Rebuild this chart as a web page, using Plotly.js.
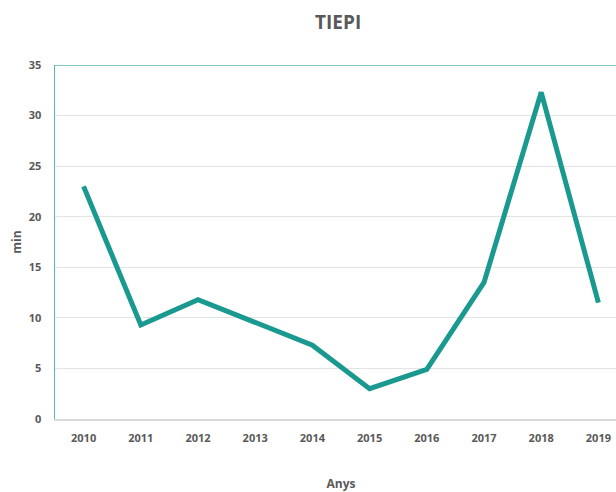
<!DOCTYPE html>
<html><head><meta charset="utf-8">
<script src="https://cdn.plot.ly/plotly-3.0.1.min.js"></script>
<style>html,body{margin:0;padding:0;overflow:hidden;width:616px;height:492px;background:#fff}</style>
</head><body><div id="chart"></div>
<script>
const years = ['2010','2011','2012','2013','2014','2015','2016','2017','2018','2019'];
const tiepi = [23.0, 9.3, 11.8, 9.5, 7.3, 3.0, 4.9, 13.5, 32.3, 11.5];
const yTicks = [0,5,10,15,20,25,30,35];

const teal = '#1a9990';
const txt = '#595959';
const font = "'Open Sans', 'Noto Sans', sans-serif";

Plotly.newPlot('chart', [{
  type: 'scatter', mode: 'lines', x: years, y: tiepi,
  line: {color: teal, width: 5, shape: 'linear'}, hoverinfo: 'skip'
}], {
  width: 640, height: 492,
  margin: {l: 55, r: 13, t: 65, b: 73},
  paper_bgcolor: '#fff', plot_bgcolor: '#fff',
  showlegend: false,
  font: {family: font, color: txt},
  title: {text: '<b>TIEPI</b>', x: 0.495, xref: 'paper', xanchor: 'center', y: 1 - 22/492, yref: 'container', yanchor: 'middle', font: {size: 19, color: txt, family: font}},
  xaxis: {
    type: 'category', range: [-0.5, 9.5],
    showgrid: false, zeroline: false,
    showline: true, linecolor: '#d9d9d9', linewidth: 1.5,
    ticks: '', ticklabelstandoff: 8,
    tickfont: {size: 11, color: txt, family: font, weight: 'bold'},
    title: {text: '<b>Anys</b>', standoff: 37, font: {size: 12, color: txt, family: font}}
  },
  yaxis: {
    range: [0, 35], tickvals: yTicks, ticktext: yTicks.map(String),
    showgrid: true, gridcolor: '#e3e3e3', gridwidth: 1, zeroline: false,
    showline: true, linecolor: '#5ab8b4', linewidth: 1.5,
    ticks: '', ticklabelstandoff: 10,
    tickfont: {size: 11, color: txt, family: font, weight: 'bold'},
    title: {text: '<b>min</b>', standoff: 4, font: {size: 12, color: txt, family: font}}
  },
  shapes: [{type: 'line', xref: 'paper', yref: 'y', x0: 0, x1: 1, y0: 35, y1: 35, line: {color: '#5ab8b4', width: 1.5}}]
}, {displayModeBar: false, staticPlot: true});
</script></body></html>
